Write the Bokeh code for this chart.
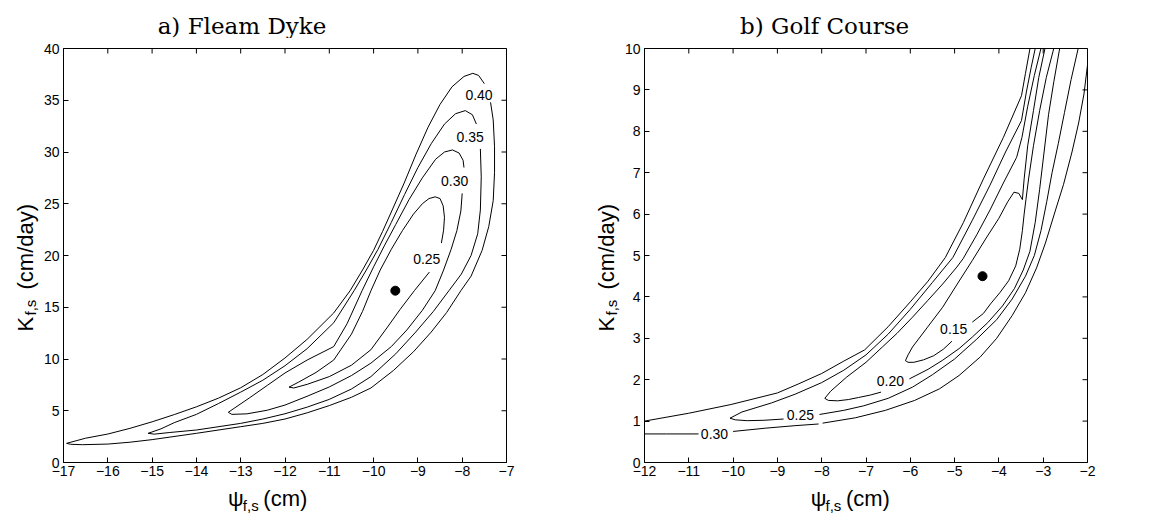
from bokeh.plotting import figure
from bokeh.layouts import row, column
from bokeh.models import Range1d, LinearAxis, FixedTicker
from bokeh.core.properties import value
from bokeh.embed import file_html
from bokeh.resources import INLINE

# ---------------- panel a) Fleam Dyke ----------------
A_TITLE = "a) Fleam Dyke"
A_XTICKS = list(range(-17, -6))
A_YTICKS = list(range(0, 41, 5))
A_OPT_X = [-9.51]
A_OPT_Y = [16.6]

A40_seg = [(-7.36, 34.8), (-7.3, 33.1), (-7.27, 30.5), (-7.27, 28.0), (-7.3, 25.3), (-7.4, 22.8),
           (-7.55, 20.5), (-7.8, 18.0), (-8.03, 16.6), (-8.35, 14.5), (-8.7, 12.6), (-9.1, 10.7),
           (-9.55, 8.9), (-10.06, 7.2), (-10.5, 6.3), (-11.0, 5.5), (-11.5, 4.8), (-12.0, 4.2),
           (-12.5, 3.78), (-13.0, 3.46), (-14.0, 2.82), (-15.0, 2.21), (-15.5, 1.96), (-16.0, 1.78),
           (-16.57, 1.72), (-16.84, 1.76), (-16.93, 1.85), (-16.5, 2.35), (-16.0, 2.75), (-15.5, 3.3),
           (-15.0, 3.93), (-14.5, 4.63), (-14.0, 5.38), (-13.5, 6.22), (-13.0, 7.22), (-12.5, 8.5),
           (-12.0, 10.1), (-11.5, 11.9), (-10.9, 14.45), (-10.53, 16.6), (-10.25, 18.6), (-10.0, 20.5),
           (-9.8, 22.3), (-9.58, 24.4), (-9.31, 27.0), (-9.04, 29.8), (-8.77, 32.4), (-8.5, 34.6),
           (-8.23, 36.3), (-7.96, 37.3), (-7.76, 37.6), (-7.63, 37.4), (-7.5, 36.6)]
A35_seg = [(-7.59, 30.3), (-7.57, 27.6), (-7.59, 24.4), (-7.65, 22.1), (-7.8, 20.0), (-8.02, 18.2),
           (-8.3, 16.6), (-8.65, 14.6), (-9.05, 12.6), (-9.5, 10.5), (-10.06, 8.3), (-10.5, 7.1),
           (-11.0, 6.1), (-11.5, 5.35), (-12.0, 4.71), (-12.5, 4.2), (-13.0, 3.78), (-14.0, 3.14),
           (-14.6, 2.9), (-14.95, 2.74), (-15.09, 2.82), (-14.8, 3.25), (-14.5, 3.85), (-14.0, 4.65),
           (-13.5, 5.7), (-13.0, 6.8), (-12.5, 7.95), (-12.0, 9.35), (-11.5, 11.0), (-10.9, 13.5),
           (-10.44, 16.6), (-10.15, 18.7), (-9.9, 20.6), (-9.6, 23.2), (-9.3, 25.9), (-9.0, 28.5),
           (-8.7, 30.8), (-8.4, 32.7), (-8.15, 33.7), (-7.93, 34.0), (-7.77, 33.6), (-7.68, 32.7)]
A30_seg = [(-8.0, 26.0), (-8.03, 24.3), (-8.12, 22.4), (-8.25, 20.6), (-8.42, 18.6), (-8.61, 16.6),
           (-8.9, 14.7), (-9.25, 12.8), (-9.6, 11.2), (-10.06, 9.6), (-10.5, 8.4), (-11.0, 7.3),
           (-11.5, 6.4), (-12.0, 5.55), (-12.4, 5.05), (-12.86, 4.7), (-13.2, 4.65), (-13.28, 4.85),
           (-13.13, 5.29), (-12.8, 6.25), (-12.4, 7.45), (-12.0, 8.65), (-11.5, 9.9), (-10.9, 11.2),
           (-10.6, 13.4), (-10.26, 16.6), (-10.0, 18.9), (-9.75, 21.0), (-9.5, 23.0), (-9.2, 25.4),
           (-8.9, 27.5), (-8.6, 29.3), (-8.4, 30.0), (-8.22, 30.2), (-8.07, 29.9), (-7.98, 29.2),
           (-7.96, 28.5)]
A25_seg = [(-8.74, 18.4), (-9.08, 16.6), (-9.4, 14.8), (-9.7, 13.0), (-10.06, 10.9), (-10.5, 9.4),
           (-11.0, 8.3), (-11.5, 7.55), (-11.8, 7.2), (-11.91, 7.28), (-11.7, 7.75), (-11.3, 8.7),
           (-10.9, 9.9), (-10.5, 12.4), (-10.25, 14.6), (-10.06, 16.6), (-9.85, 18.6), (-9.6, 20.6),
           (-9.35, 22.4), (-9.1, 24.0), (-8.9, 25.0), (-8.75, 25.5), (-8.61, 25.67), (-8.5, 25.5),
           (-8.43, 24.8), (-8.4, 23.7), (-8.42, 22.45), (-8.47, 21.2)]
A_LABEL_TEXT = ["0.40", "0.35", "0.30", "0.25"]
A_LABEL_X = [-7.62, -7.82, -8.17, -8.8]
A_LABEL_Y = [35.5, 31.45, 27.2, 19.7]

# ---------------- panel b) Golf Course ----------------
B_TITLE = "b) Golf Course"
B_XTICKS = list(range(-12, -1))
B_YTICKS = list(range(0, 11))
B_OPT_X = [-4.37]
B_OPT_Y = [4.5]

B30_low1 = [(-12.0, 0.69), (-11.5, 0.69), (-10.78, 0.69)]
B30_low2 = [(-10.0, 0.75), (-9.26, 0.83), (-8.6, 0.89), (-8.07, 0.93)]
B30_low3 = [(-7.98, 0.95), (-7.24, 1.08), (-6.56, 1.26), (-5.9, 1.5), (-5.34, 1.78), (-4.9, 2.1),
            (-4.42, 2.55), (-4.05, 3.0), (-3.7, 3.55), (-3.4, 4.1), (-3.15, 4.7), (-2.95, 5.3),
            (-2.75, 6.0), (-2.54, 6.72), (-2.35, 7.5), (-2.2, 8.2), (-2.08, 8.9), (-2.0, 9.6),
            (-1.95, 9.95)]
B30_up = [(-12.0, 1.0), (-11.0, 1.19), (-10.05, 1.4), (-9.0, 1.68), (-8.52, 1.9), (-8.0, 2.15),
          (-7.5, 2.45), (-7.03, 2.72), (-6.5, 3.28), (-6.0, 3.88), (-5.6, 4.38), (-5.21, 4.95),
          (-4.8, 5.8), (-4.35, 6.85), (-3.9, 7.85), (-3.49, 8.86), (-3.4, 9.4), (-3.29, 10.05)]
B25_seg1 = [(-8.86, 1.05), (-9.3, 1.02), (-9.68, 1.01), (-9.95, 1.03), (-10.07, 1.07), (-9.8, 1.22),
            (-9.13, 1.44), (-8.6, 1.65), (-8.0, 1.93), (-7.5, 2.23), (-7.0, 2.6), (-6.5, 3.1),
            (-6.0, 3.7), (-5.5, 4.35), (-5.04, 4.95), (-4.6, 5.85), (-4.2, 6.7), (-3.85, 7.5),
            (-3.49, 8.26), (-3.38, 8.95), (-3.27, 9.55), (-3.17, 10.05)]
B25_seg2 = [(-8.05, 1.16), (-7.5, 1.26), (-7.05, 1.37), (-6.5, 1.55), (-5.95, 1.82), (-5.5, 2.12),
            (-5.0, 2.5), (-4.5, 2.98), (-4.05, 3.45), (-3.7, 3.95), (-3.4, 4.5), (-3.2, 5.0),
            (-3.05, 5.6), (-2.92, 6.3), (-2.8, 7.0), (-2.66, 7.7), (-2.52, 8.45), (-2.37, 9.25),
            (-2.2, 10.05)]
B20_seg1 = [(-6.66, 1.7), (-6.9, 1.63), (-7.17, 1.57), (-7.4, 1.52), (-7.64, 1.49), (-7.85, 1.5),
            (-7.93, 1.55), (-7.8, 1.72), (-7.44, 2.06), (-7.0, 2.42), (-6.63, 2.79), (-6.3, 3.12),
            (-5.95, 3.51), (-5.6, 3.92), (-5.27, 4.31), (-4.95, 4.72), (-4.81, 4.92), (-4.5, 5.5),
            (-4.2, 6.1), (-3.9, 6.75), (-3.6, 7.37), (-3.48, 7.85), (-3.35, 8.6), (-3.2, 9.35),
            (-3.04, 10.05)]
B20_seg2 = [(-6.02, 2.02), (-5.6, 2.25), (-5.27, 2.47), (-4.9, 2.75), (-4.6, 3.03), (-4.25, 3.38),
            (-3.92, 3.78), (-3.65, 4.2), (-3.45, 4.65), (-3.3, 5.1), (-3.18, 5.8), (-3.08, 6.6),
            (-2.98, 7.5), (-2.88, 8.4), (-2.76, 9.2), (-2.62, 10.05)]
B15_seg1 = [(-5.06, 2.93), (-5.25, 2.74), (-5.47, 2.58), (-5.7, 2.48), (-5.92, 2.42), (-6.05, 2.42),
            (-6.11, 2.46), (-6.05, 2.6), (-5.95, 2.79), (-5.61, 3.27), (-5.27, 3.75), (-4.94, 4.31),
            (-4.6, 4.88), (-4.3, 5.4), (-4.0, 5.9), (-3.8, 6.3), (-3.66, 6.53), (-3.55, 6.5),
            (-3.47, 6.35), (-3.43, 6.85), (-3.35, 7.65), (-3.22, 8.5), (-3.1, 9.3), (-2.95, 10.05)]
B15_seg2 = [(-4.6, 3.39), (-4.35, 3.6), (-4.19, 3.83), (-3.98, 4.1), (-3.78, 4.39), (-3.62, 4.75),
            (-3.53, 5.15), (-3.47, 5.6), (-3.43, 6.0), (-3.39, 6.35), (-3.33, 6.85), (-3.22, 7.65),
            (-3.08, 8.5), (-2.93, 9.3), (-2.75, 10.05)]
B_LABEL_TEXT = ["0.30", "0.25", "0.20", "0.15"]
B_LABEL_X = [-10.42, -8.48, -6.45, -5.02]
B_LABEL_Y = [0.69, 1.14, 1.96, 3.22]

SANS = "Liberation Sans"
SERIF = "DejaVu Serif"
H = 524
TOP = 38          # height of the title strip
XLAB_TOP = 483    # page y where the x-label strip starts
HALF_PI = 1.5707963


def fmt(t):
    return str(t).replace("-", "\u2212")


def helper(gx0, gx1, gy0, gy1):
    """A bare figure covering a page region; coordinates are page pixels (y up)."""
    p = figure(width=gx1 - gx0, height=gy1 - gy0, x_range=Range1d(gx0, gx1),
               y_range=Range1d(H - gy1, H - gy0), output_backend="svg",
               toolbar_location=None, tools="", x_axis_type=None, y_axis_type=None,
               min_border=0)
    p.outline_line_color = None
    p.background_fill_color = "white"
    p.border_fill_color = "white"
    return p


def txt(p, x, y, s, size, font=SANS, angle=0.0, align="left"):
    p.text(x=[x], y=[y], text=[s], angle=angle, text_font=value(font), text_font_size=size,
           text_align=align, text_baseline="alphabetic", text_color="black")


def main_panel(xr, yr, xticks, yticks, left):
    p = figure(width=541, height=XLAB_TOP - TOP, x_range=Range1d(*xr), y_range=Range1d(*yr),
               output_backend="svg", toolbar_location=None, tools="",
               x_axis_type=None, y_axis_type=None,
               min_border_left=left, min_border_right=75, min_border_top=48 - TOP,
               min_border_bottom=21)
    p.outline_line_color = "black"
    p.outline_line_width = 1
    p.background_fill_color = "white"
    p.border_fill_color = "white"
    for loc, ticks in (("below", xticks), ("left", yticks)):
        ax = LinearAxis(ticker=FixedTicker(ticks=ticks))
        ax.major_label_overrides = {t: fmt(t) for t in ticks}
        ax.major_tick_in = 5
        ax.major_tick_out = 0
        ax.minor_tick_line_color = None
        ax.axis_line_color = "black"
        ax.major_tick_line_color = "black"
        ax.major_label_text_font = SANS
        ax.major_label_text_font_size = "14px"
        ax.major_label_text_color = "black"
        ax.major_label_standoff = 3 if loc == "below" else 4
        p.add_layout(ax, loc)
    # inward ticks on the top and right edges (half of each dash is clipped by the frame)
    p.scatter(x=xticks, y=[yr[1]] * len(xticks), marker="dash", size=10, angle=HALF_PI,
              line_color="black", line_width=1)
    p.scatter(x=[xr[1]] * len(yticks), y=yticks, marker="dash", size=10,
              line_color="black", line_width=1)
    return p


def draw_lines(p, segs):
    p.multi_line(xs=[[q[0] for q in s] for s in segs], ys=[[q[1] for q in s] for s in segs],
                 line_color="black", line_width=1)


def draw_labels(p, xs, ys, texts):
    p.text(x=xs, y=ys, text=texts, text_font=value(SANS), text_font_size="14px",
           text_align="center", text_baseline="middle", text_color="black")


def build(gx, title, title_cx, xr, yr, xticks, yticks, left, segs, lab, opt):
    ylab = helper(gx, gx + 40, 0, H)
    txt(ylab, gx + 25, H - 331, "K", "22px", angle=HALF_PI)
    txt(ylab, gx + 29.5, H - 315, "f,s", "15px", angle=HALF_PI)
    txt(ylab, gx + 25, H - 289, "(cm/day)", "22px", angle=HALF_PI)

    ttl = helper(gx + 40, gx + 581, 0, TOP)
    txt(ttl, title_cx, H - 25, title, "23px", font=SERIF, align="center")

    main = main_panel(xr, yr, xticks, yticks, left)
    draw_lines(main, segs)
    draw_labels(main, *lab)
    main.scatter(x=opt[0], y=opt[1], size=9, color="black")

    xlab = helper(gx + 40, gx + 581, XLAB_TOP, H)
    fx = gx + 61 + left - 21 + 180  # start of the x label text
    txt(xlab, fx, H - 498, "\u03c8", "22px")
    txt(xlab, fx + 18, H - 505, "f,s", "15px")
    txt(xlab, fx + 43, H - 498, "(cm)", "22px")
    return row(ylab, column(ttl, main, xlab))


panel_a = build(0, A_TITLE, 258, (-17, -7), (0, 40), A_XTICKS, A_YTICKS, 21,
                [A40_seg, A35_seg, A30_seg, A25_seg],
                (A_LABEL_X, A_LABEL_Y, A_LABEL_TEXT), (A_OPT_X, A_OPT_Y))
panel_b = build(581, B_TITLE, 841, (-12, -2), (0, 10), B_XTICKS, B_YTICKS, 23,
                [B30_low1, B30_low2, B30_low3, B30_up, B25_seg1, B25_seg2,
                 B20_seg1, B20_seg2, B15_seg1, B15_seg2],
                (B_LABEL_X, B_LABEL_Y, B_LABEL_TEXT), (B_OPT_X, B_OPT_Y))

layout = row(panel_a, panel_b)
open("out.html", "w").write(file_html(layout, INLINE))
